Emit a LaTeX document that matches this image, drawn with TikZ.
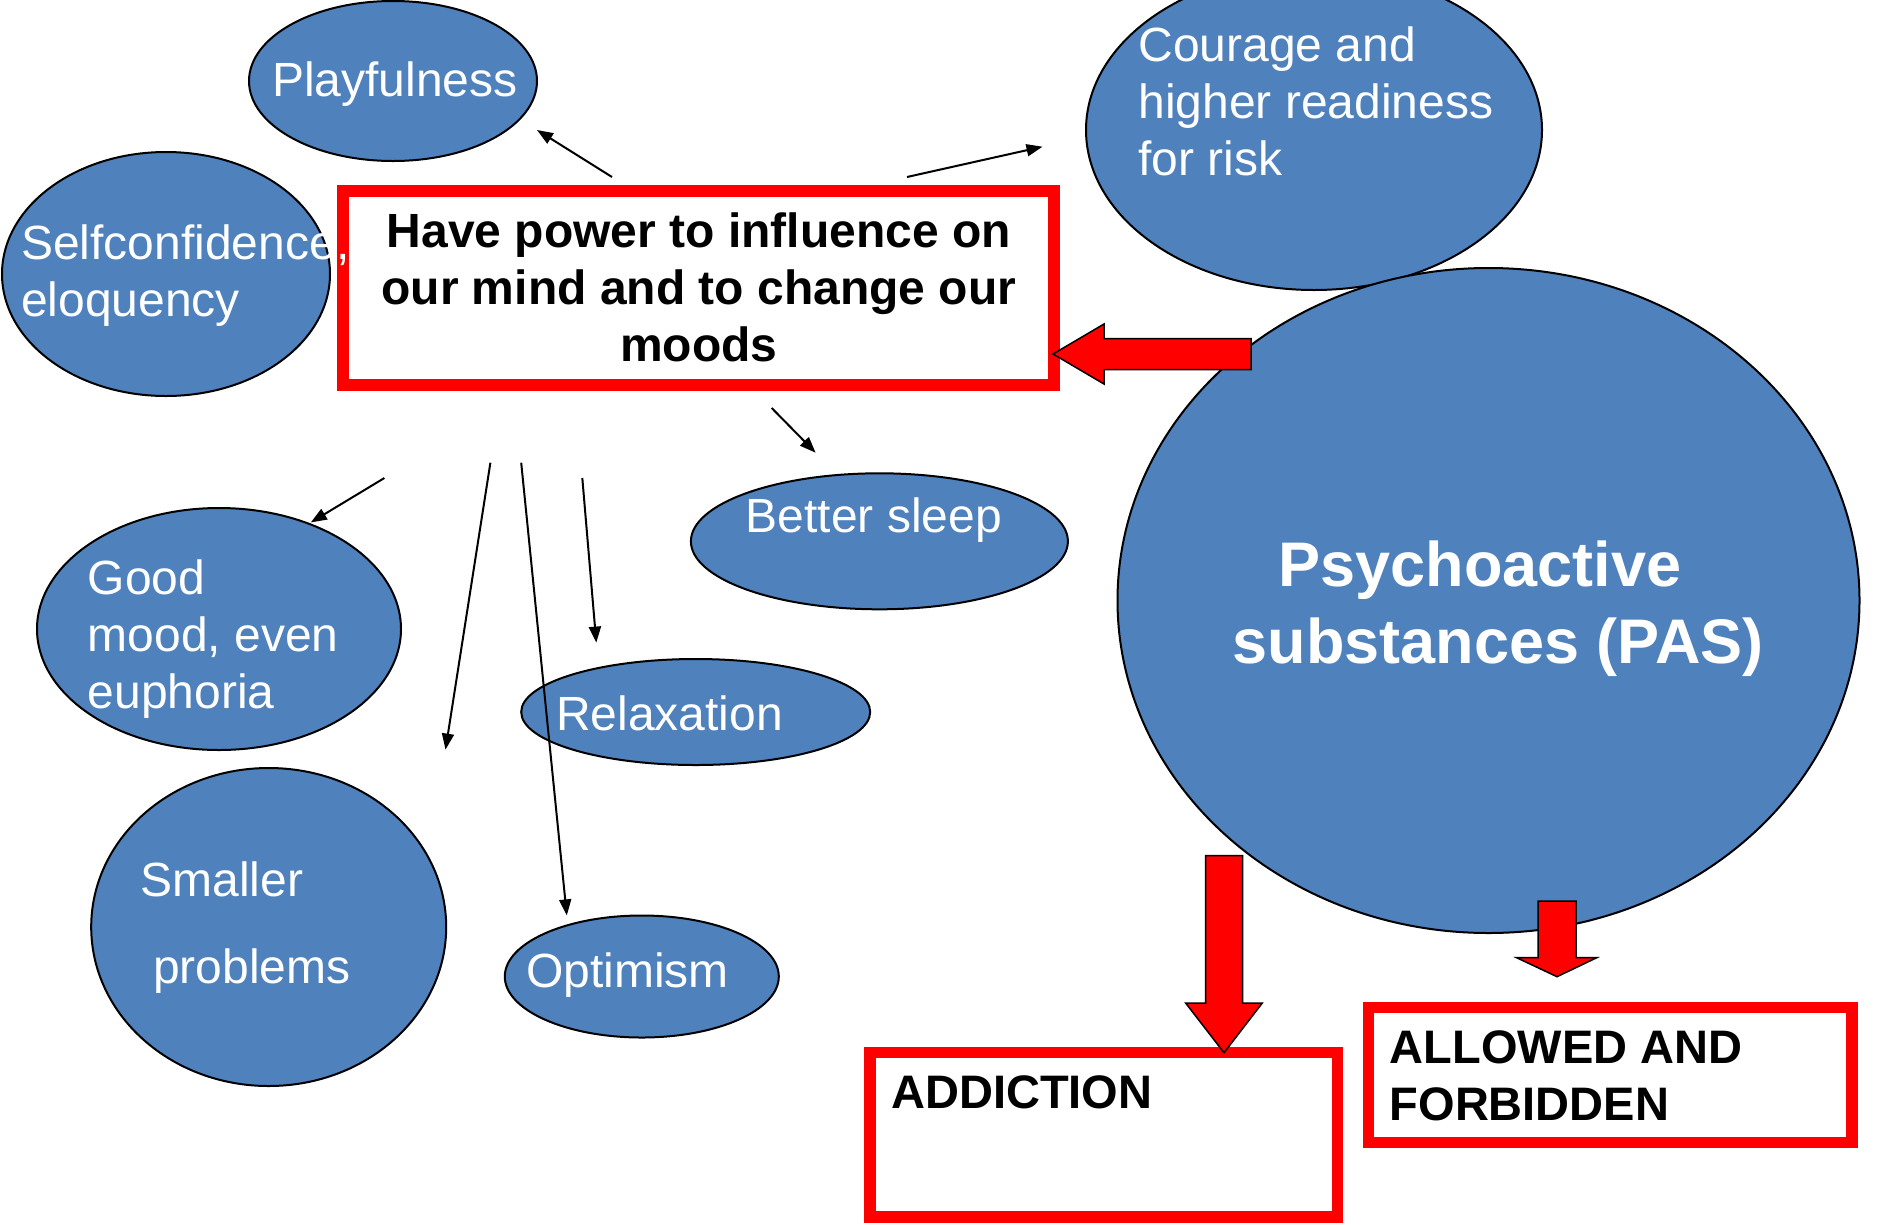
\documentclass[tikz,border=0pt]{standalone}
\usepackage{fontspec}
\setmainfont{Liberation Sans}
\usetikzlibrary{shapes.geometric,arrows.meta}
\definecolor{pasblue}{HTML}{4F81BD}
\definecolor{boxred}{HTML}{FF0000}
\begin{document}
\begin{tikzpicture}[x=1pt,y=-1pt,
  bubble/.style={ellipse, draw=black, line width=2pt, fill=pasblue, inner sep=0pt},
  wtext/.style={anchor=base west, align=left, text=white, inner sep=0pt, font=\fontsize{48}{57}\selectfont},
  redbox/.style={draw=boxred, line width=12pt, fill=white, inner sep=0pt},
  btext/.style={anchor=base west, align=left, inner sep=0pt, font=\fontsize{47}{56.7}\selectfont\bfseries},
  thinarrow/.style={line width=2pt, -{Triangle[length=16pt,width=12pt]}},
  blockarrow/.style={fill=boxred, draw=black, line width=1.5pt, line join=miter}
]
\useasboundingbox (0,0) rectangle (1878,1224);
\clip (0,0) rectangle (1878,1224);

% bubbles
\node[bubble, minimum width=456pt, minimum height=320pt] (courage) at (1314,130) {};
\node[bubble, minimum width=742pt, minimum height=665pt] (pas) at (1488.5,600.5) {};
\node[bubble, minimum width=288pt, minimum height=160pt] (play) at (393,81) {};
\node[bubble, minimum width=328pt, minimum height=244pt] (self) at (166,274) {};
\node[bubble, minimum width=377pt, minimum height=136pt] (sleep) at (879.4,541.3) {};
\node[bubble, minimum width=364pt, minimum height=242pt] (mood) at (219,629) {};
\node[bubble, minimum width=349pt, minimum height=106pt] (relax) at (695.7,712) {};
\node[bubble, minimum width=355pt, minimum height=318pt] (smaller) at (268.7,927) {};
\node[bubble, minimum width=274pt, minimum height=122pt] (optim) at (641.8,976.5) {};

% red boxes
\node[redbox, minimum width=710.6pt, minimum height=194pt, align=center,
      font=\fontsize{48}{57}\selectfont\bfseries] (main) at (698.7,287.5)
      {Have power to influence on\\our mind and to change our\\moods};
\node[redbox, line width=11.5pt, minimum width=467.5pt, minimum height=164.3pt] (addict) at (1103.75,1134.85) {};
\node[redbox, line width=11.5pt, minimum width=483.5pt, minimum height=135pt] (allowed) at (1610.25,1075) {};

% texts (base anchor = baseline of the last line)
\node[wtext] (playtext) at (272,96.7) {Playfulness};
\node[wtext] (couragetext) at (1138.3,175) {Courage and\\higher readiness\\for risk};
\node[wtext] (selftext) at (21,316.7) {Selfconfidence,\\eloquency};
\node[wtext] (sleeptext) at (745.7,532.8) {Better sleep};
\node[wtext] (moodtext) at (87.7,708) {Good\\mood, even\\euphoria};
\node[wtext] (relaxtext) at (556,730) {Relaxation};
\node[wtext] (smallertext) at (140.3,983.8) {Smaller\\[30pt]\hspace*{12.7pt}problems};
\node[wtext] (optimtext) at (526,987) {Optimism};
\node[anchor=base, align=center, text=white, inner sep=0pt,
      font=\fontsize{63}{77}\selectfont\bfseries] (pastext) at (1488.5,663)
      {\hspace*{-17pt}Psychoactive\\\hspace*{19pt}substances (PAS)};
\node[btext] (addtext) at (891,1108) {ADDICTION};
\node[btext] (allowtext) at (1389.5,1120) {ALLOWED AND\\FORBIDDEN};

% thin arrows
\coordinate (sPlay) at (612,177);   \coordinate (ePlay) at (537,130);
\coordinate (sCour) at (907,177);   \coordinate (eCour) at (1042.5,146.7);
\coordinate (sSleep) at (771.7,408);\coordinate (eSleep) at (815.6,452.7);
\coordinate (sMood) at (384.4,478); \coordinate (eMood) at (310.8,522.4);
\coordinate (sSmall) at (490.4,462.7); \coordinate (eSmall) at (445.5,749.6);
\coordinate (sOpt) at (521.2,462.7); \coordinate (eOpt) at (566.8,915.4);
\coordinate (sRel) at (582.3,478);  \coordinate (eRel) at (596.3,642.6);
\draw[thinarrow] (sPlay) -- (ePlay);
\draw[thinarrow] (sCour) -- (eCour);
\draw[thinarrow] (sSleep) -- (eSleep);
\draw[thinarrow] (sMood) -- (eMood);
\draw[thinarrow] (sSmall) -- (eSmall);
\draw[thinarrow] (sOpt) -- (eOpt);
\draw[thinarrow] (sRel) -- (eRel);

% block arrows
\coordinate (tipMain) at (1053,354);
\coordinate (tipAdd) at (1224,1052.7);
\coordinate (tipAll) at (1557,976.7);
\draw[blockarrow] (tipMain) -- (1104,324) -- (1104,338.5) -- (1251,338.5) -- (1251,369.5) -- (1104,369.5) -- (1104,384) -- cycle;
\draw[blockarrow] (tipAdd) -- (1185.6,1003) -- (1205.5,1003) -- (1205.5,855.7) -- (1242.5,855.7) -- (1242.5,1003) -- (1262.3,1003) -- cycle;
\draw[blockarrow] (tipAll) -- (1516.6,957.7) -- (1538,957.7) -- (1538,901) -- (1576,901) -- (1576,957.7) -- (1596.7,957.7) -- cycle;
\end{tikzpicture}
\end{document}
